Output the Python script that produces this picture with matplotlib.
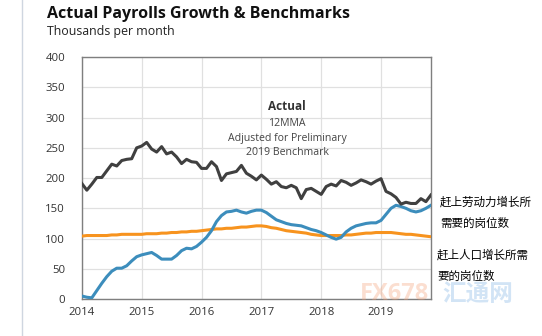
import numpy as np
import matplotlib.pyplot as plt
from matplotlib.lines import Line2D

plt.rcParams['font.family'] = ['Open Sans', 'Noto Sans CJK SC', 'DejaVu Sans']

# monthly values, Jan 2014 .. Nov 2019 (thousands per month)
actual = [191, 180, 190, 201, 201, 212, 223, 220, 229, 231, 232, 250, 253, 259, 248, 243,
          252, 240, 243, 235, 224, 231, 227, 226, 216, 216, 227, 219, 196, 207, 209, 211,
          221, 208, 203, 197, 205, 198, 190, 194, 186, 184, 188, 184, 166, 181, 183, 178,
          173, 186, 190, 187, 196, 193, 188, 192, 197, 194, 190, 195, 199, 178, 174, 168,
          157, 160, 158, 158, 166, 161, 172]
labor_force = [5, 3, 2, 14, 26, 37, 46, 51, 51, 55, 63, 70, 73, 75, 77, 72,
               66, 66, 66, 72, 80, 84, 83, 87, 94, 102, 113, 128, 138, 144, 145, 147,
               144, 142, 145, 147, 147, 143, 137, 131, 128, 125, 123, 122, 121, 118, 115, 113,
               110, 106, 102, 99, 102, 111, 117, 121, 123, 125, 126, 126, 130, 140, 150, 155,
               153, 150, 146, 144, 146, 150, 155]
population = [104, 105, 105, 105, 105, 105, 106, 106, 107, 107, 107, 107, 107, 108, 108, 108,
              109, 109, 110, 110, 111, 111, 112, 112, 113, 114, 115, 116, 116, 117, 117, 118,
              119, 119, 120, 121, 121, 120, 118, 117, 115, 113, 112, 111, 110, 109, 107, 106,
              105, 105, 105, 105, 105, 106, 106, 107, 108, 109, 109, 110, 110, 110, 110, 109,
              108, 107, 107, 106, 105, 104, 103]
years = [2014, 2015, 2016, 2017, 2018, 2019]
yticks = [0, 50, 100, 150, 200, 250, 300, 350, 400]

x = 2014 + np.arange(len(actual)) / 12

fig = plt.figure(figsize=(5.42, 3.36), dpi=100)
ax = fig.add_axes([0.151, 0.110, 0.644, 0.720])

ax.plot(x, population, color='#f7931e', lw=2.2, zorder=3)
ax.plot(x, labor_force, color='#3c8dbc', lw=2.2, zorder=4)
ax.plot(x, actual, color='#404040', lw=2.2, zorder=5)

ax.set_xlim(2014, x[-1])
ax.set_ylim(0, 400)
ax.set_xticks(years)
ax.set_yticks(yticks)
ax.grid(True, color='#e0e0e0', lw=0.9)
ax.set_axisbelow(True)
ax.tick_params(length=0, labelsize=8.2, colors='#333333')
ax.tick_params(axis='y', pad=12)
ax.tick_params(axis='x', pad=6)
for s in ax.spines.values():
    s.set_color('#7f7f7f')
    s.set_linewidth(1.0)

fig.add_artist(Line2D([22 / 542, 22 / 542], [0, 1], color='#cfd6e0', lw=1.0))

fig.text(47 / 542, 1 - 14 / 336, 'Actual Payrolls Growth & Benchmarks', fontsize=11.5,
         fontweight='bold', va='center', ha='left', color='#111111')
fig.text(47 / 542, 1 - 32 / 336, 'Thousands per month', fontsize=8.9,
         va='center', ha='left', color='#222222')

cx = 287 / 542
fig.text(cx, 1 - 107 / 336, 'Actual', fontsize=8.5, fontweight='bold', ha='center',
         va='center', color='#333333')
fig.text(cx, 1 - 123 / 336, '12MMA', fontsize=7.6, ha='center', va='center', color='#444444')
fig.text(cx, 1 - 138 / 336, 'Adjusted for Preliminary', fontsize=7.6, ha='center',
         va='center', color='#444444')
fig.text(cx, 1 - 153 / 336, '2019 Benchmark', fontsize=7.6, ha='center', va='center',
         color='#444444')

cjk = ['Noto Sans CJK SC', 'DejaVu Sans']
fig.text(440 / 542, 1 - 202 / 336, '赶上劳动力增长所', fontsize=8.3, family=cjk, va='center')
fig.text(440 / 542, 1 - 223 / 336, '需要的岗位数', fontsize=8.3, family=cjk, va='center')
fig.text(437 / 542, 1 - 255 / 336, '赶上人口增长所需', fontsize=8.3, family=cjk, va='center')
fig.text(437 / 542, 1 - 276 / 336, '要的岗位数', fontsize=8.3, family=cjk, va='center')

# faint watermark
fig.text(395 / 542, 1 - 294 / 336, 'FX678', fontsize=17, fontweight='bold', color='#f5a37a',
         alpha=0.35, ha='center', va='center', zorder=10)
fig.text(478 / 542, 1 - 294 / 336, '汇通网', fontsize=17, fontweight='bold', family=cjk,
         color='#7fb2e5', alpha=0.35, ha='center', va='center', zorder=10)

fig.savefig('out.png', dpi=100)
